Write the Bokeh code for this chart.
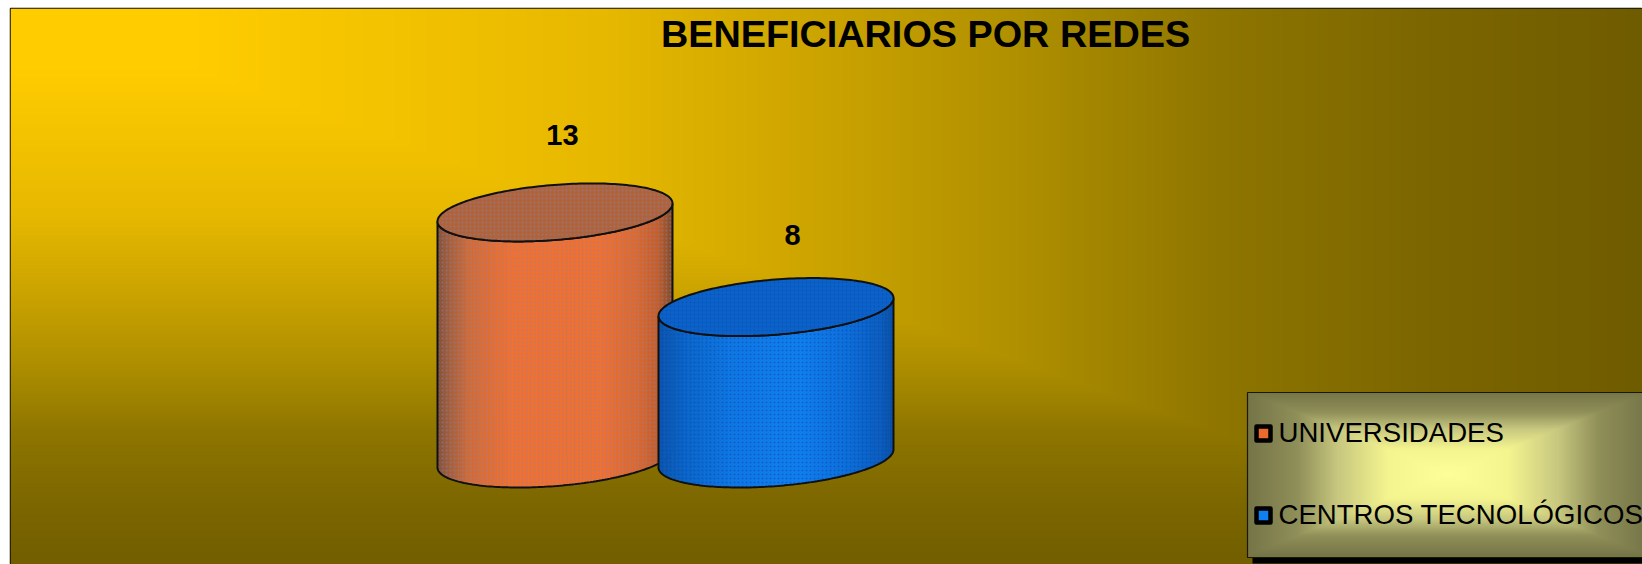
import numpy as np
from bokeh.plotting import figure
from bokeh.models import Range1d
from bokeh.core.properties import value
from bokeh.embed import file_html
from bokeh.resources import INLINE

# ---- data ----
title_text = "BENEFICIARIOS POR REDES"
categories = ["UNIVERSIDADES", "CENTROS TECNOLÓGICOS"]
values = [13, 8]
positions = [0, 1]

# ---- layout constants (page pixels) ----
FRAME_L, FRAME_T, FRAME_R, FRAME_B = 10, 8, 1642, 564
CAT_PX = 221.0          # pixels per category
VAL_PX = 18.93          # pixels per value unit
X0_PAGE = 554.5         # page x of category 0
Y0_PAGE = 458.0         # page y of value 0
HW, HH, SKEW = 117.5, 29.0, 9.0   # cylinder end-ellipse shape, pixels
R = np.sqrt(HH**2 - SKEW**2)


def xd(px):
    return (np.asarray(px, dtype=float) - X0_PAGE) / CAT_PX


def yd(py):
    return (Y0_PAGE - np.asarray(py, dtype=float)) / VAL_PX


def ramp(t, stops):
    ts = [s[0] for s in stops]
    out = [np.interp(t, ts, [int(s[1][i:i + 2], 16) for s in stops]) for i in (0, 2, 4)]
    return out


def rgba_image(r, g, b):
    img = np.zeros(r.shape, dtype=np.uint32)
    view = img.view(dtype=np.uint8).reshape((*r.shape, 4))
    view[..., 0] = r
    view[..., 1] = g
    view[..., 2] = b
    view[..., 3] = 255
    return img


p = figure(width=1642, height=564, output_backend="svg", toolbar_location=None,
           x_axis_type=None, y_axis_type=None, tools="",
           x_range=Range1d(float(xd(FRAME_L)), float(xd(FRAME_R))),
           y_range=Range1d(float(yd(FRAME_B)), float(yd(FRAME_T))),
           min_border_left=FRAME_L, min_border_right=0, min_border_top=FRAME_T, min_border_bottom=0)
p.grid.visible = False
p.background_fill_color = None
p.border_fill_color = "white"
p.outline_line_color = "#101000"
p.outline_line_width = 1.5

# ---- background: gradient from the top-left corner ----
px, py = np.meshgrid(np.arange(FRAME_L, FRAME_R), np.arange(FRAME_T, FRAME_B))
py = py[::-1]
t = np.maximum(px / 1642.0, py / 582.0)
bg_stops = [(0, "FFCC00"), (0.12, "FFCC00"), (0.37, "E6B800"), (0.5, "CCA400"), (0.62, "B09000"),
            (0.74, "8F7600"), (0.87, "7C6600"), (1, "705C00")]
p.image_rgba(image=[rgba_image(*ramp(t, bg_stops))], x=float(xd(FRAME_L)), y=float(yd(FRAME_B)),
             dw=float(xd(FRAME_R) - xd(FRAME_L)), dh=float(yd(FRAME_T) - yd(FRAME_B)))

# ---- cylinders ----
orange_stops = [(0, "84523A"), (0.05, "A45F3E"), (0.13, "D06C38"), (0.3, "F07030"), (0.7, "F07030"),
                (0.85, "DC6A30"), (0.94, "C45E2C"), (1, "844E30")]
blue_stops = [(0, "0A56B0"), (0.12, "0A68CC"), (0.3, "0E78E4"), (0.6, "1080F0"), (0.8, "0C70DC"),
              (0.95, "0A5EC0"), (1, "0A52A8")]
tops = ["B0623A", "0A62C8"]
dots = ["7888C8", "0A3CA8"]
shades = [orange_stops, blue_stops]


def low(u, v, x0):
    xs = x0 + HW * u / CAT_PX
    ys = v + (SKEW * u - R * np.sqrt(np.clip(1 - u * u, 0, 1))) / VAL_PX
    return xs, ys


for x0, v, stops, top, dot in zip(positions, values, shades, tops, dots):
    n = 90
    edges = np.cos(np.linspace(np.pi, 2 * np.pi, n + 1))
    sx, sy, cols = [], [], []
    for a, b in zip(edges[:-1], edges[1:]):
        uu = np.linspace(a, b, 5)
        bx, by = low(uu, 0, x0)
        tx, ty = low(uu, v, x0)
        sx.append(np.concatenate([bx, tx[::-1]]).tolist())
        sy.append(np.concatenate([by, ty[::-1]]).tolist())
        c = ramp((a + b) / 4 + 0.5, stops)
        cols.append("#%02x%02x%02x" % tuple(int(q) for q in c))
    p.patches(sx, sy, fill_color=cols, line_color=cols, line_width=0.8)

    uu = np.cos(np.linspace(np.pi, 2 * np.pi, 120))
    bx, by = low(uu, 0, x0)
    tx, ty = low(uu, v, x0)
    sil_x = np.concatenate([bx, tx[::-1]])
    sil_y = np.concatenate([by, ty[::-1]])
    p.patch(sil_x, sil_y, fill_alpha=0, line_color="#101010", line_width=2,
            hatch_pattern="dot", hatch_scale=4, hatch_weight=1, hatch_color="#" + dot, hatch_alpha=0.45)

    ang = np.linspace(0, 2 * np.pi, 200)
    ex = x0 + HW * np.cos(ang) / CAT_PX
    ey = v + (SKEW * np.cos(ang) + R * np.sin(ang)) / VAL_PX
    p.patch(ex, ey, fill_color="#" + top, line_color="#101010", line_width=2,
            hatch_pattern="dot", hatch_scale=4, hatch_weight=1, hatch_color="#" + dot, hatch_alpha=0.45)

# ---- value labels ----
p.text(x=[float(xd(562)), float(xd(792))], y=[float(yd(134)), float(yd(234))],
       text=[str(v) for v in values], text_font=value("Liberation Sans"), text_font_style="bold",
       text_font_size="29px", text_color="black", text_align="center", text_baseline="middle")

# ---- title ----
p.text(x=[float(xd(925))], y=[float(yd(33))], text=[title_text], text_font=value("Liberation Sans"),
       text_font_style="bold", text_font_size="37.8px", text_color="black",
       text_align="center", text_baseline="middle")

# ---- legend ----
LL, LT, LR, LB = 1247, 392, 1647, 557
p.quad(left=[float(xd(LL + 5))], right=[float(xd(LR + 5))], top=[float(yd(LT + 5))], bottom=[float(yd(LB + 6))],
       fill_color="black", line_color=None)
lx, ly = np.meshgrid(np.arange(LL, LR), np.arange(LT, LB))
ly = ly[::-1]
lt = np.maximum(np.abs(lx - 1447) / 200.0, np.abs(ly - 473) / 82.0)
leg_stops = [(0, "FFFF99"), (0.3, "F5F590"), (0.55, "C8C880"), (0.75, "90905A"), (1, "767548")]
p.image_rgba(image=[rgba_image(*ramp(lt, leg_stops))], x=float(xd(LL)), y=float(yd(LB)),
             dw=float(xd(LR) - xd(LL)), dh=float(yd(LT) - yd(LB)))
p.quad(left=[float(xd(LL))], right=[float(xd(LR))], top=[float(yd(LT))], bottom=[float(yd(LB))],
       fill_alpha=0, line_color="#1a1a00", line_width=1.2)
swatch_cols = ["#EC6A2C", "#1080F0"]
for name, cy, col in zip(categories, [433, 515], swatch_cols):
    p.quad(left=[float(xd(1256))], right=[float(xd(1270))], top=[float(yd(cy - 7))], bottom=[float(yd(cy + 7))],
           fill_color=col, line_color="black", line_width=4.5, line_join="round")
    p.text(x=[float(xd(1278))], y=[float(yd(cy - 1.5))], text=[name], text_font=value("Liberation Sans"),
           text_font_size="27.6px", text_color="black", text_align="left", text_baseline="middle")

open("out.html", "w").write(file_html(p, INLINE))
